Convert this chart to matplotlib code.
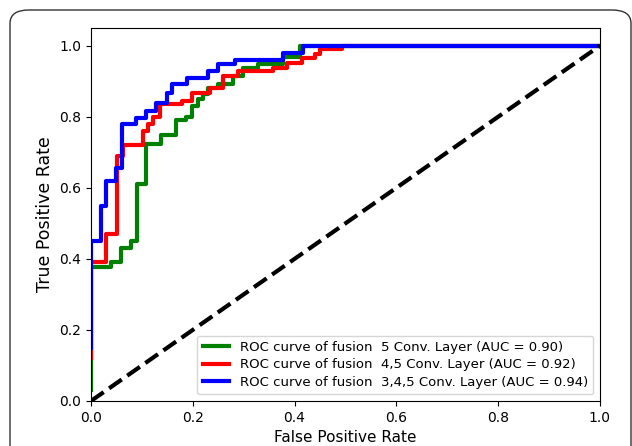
import matplotlib
matplotlib.use("Agg")
import matplotlib.pyplot as plt
from matplotlib.patches import FancyBboxPatch

# ROC corner points
fpr_5 = [0.0, 0.0, 0.039, 0.039, 0.059, 0.059, 0.079, 0.079, 0.090, 0.090,
         0.108, 0.108, 0.137, 0.137, 0.167, 0.167, 0.187, 0.187, 0.198, 0.198,
         0.210, 0.210, 0.220, 0.220, 0.230, 0.230, 0.250, 0.250, 0.279, 0.279,
         0.299, 0.299, 0.328, 0.328, 0.377, 0.377, 0.411, 0.411, 1.0]
tpr_5 = [0.03, 0.377, 0.377, 0.39, 0.39, 0.43, 0.43, 0.45, 0.45, 0.61,
         0.61, 0.724, 0.724, 0.75, 0.75, 0.79, 0.79, 0.80, 0.80, 0.83,
         0.83, 0.85, 0.85, 0.865, 0.865, 0.88, 0.88, 0.893, 0.893, 0.915,
         0.915, 0.938, 0.938, 0.95, 0.95, 0.97, 0.97, 1.0, 1.0]

fpr_45 = [0.0, 0.0, 0.029, 0.029, 0.051, 0.051, 0.063, 0.063, 0.102, 0.102,
          0.112, 0.112, 0.122, 0.122, 0.135, 0.135, 0.179, 0.179, 0.198, 0.198,
          0.234, 0.234, 0.259, 0.259, 0.289, 0.289, 0.358, 0.358, 0.385, 0.385,
          0.415, 0.415, 0.440, 0.440, 0.450, 0.450, 0.493, 0.493, 1.0]
tpr_45 = [0.12, 0.39, 0.39, 0.47, 0.47, 0.69, 0.69, 0.72, 0.72, 0.76,
          0.76, 0.78, 0.78, 0.80, 0.80, 0.835, 0.835, 0.845, 0.845, 0.868,
          0.868, 0.882, 0.882, 0.915, 0.915, 0.93, 0.93, 0.938, 0.938, 0.952,
          0.952, 0.966, 0.966, 0.977, 0.977, 0.99, 0.99, 1.0, 1.0]

fpr_345 = [0.0, 0.0, 0.020, 0.020, 0.030, 0.030, 0.050, 0.050, 0.060, 0.060,
           0.088, 0.088, 0.108, 0.108, 0.128, 0.128, 0.149, 0.149, 0.159, 0.159,
           0.189, 0.189, 0.230, 0.230, 0.250, 0.250, 0.283, 0.283, 0.377, 0.377,
           0.417, 0.417, 1.0]
tpr_345 = [0.15, 0.45, 0.45, 0.55, 0.55, 0.62, 0.62, 0.657, 0.657, 0.78,
           0.78, 0.797, 0.797, 0.817, 0.817, 0.84, 0.84, 0.868, 0.868, 0.893,
           0.893, 0.91, 0.91, 0.93, 0.93, 0.95, 0.95, 0.96, 0.96, 0.98,
           0.98, 1.0, 1.0]

labels = ["ROC curve of fusion  5 Conv. Layer (AUC = 0.90)",
          "ROC curve of fusion  4,5 Conv. Layer (AUC = 0.92)",
          "ROC curve of fusion  3,4,5 Conv. Layer (AUC = 0.94)"]
colors = ["green", "red", "blue"]

fig = plt.figure(figsize=(6.32, 4.46), dpi=100)
ax = fig.add_axes([0.144, 0.101, 0.805, 0.836])

curves = [(fpr_5, tpr_5), (fpr_45, tpr_45), (fpr_345, tpr_345)]
for (x, y), c, lab in zip(curves, colors, labels):
    ax.plot(x, y, color=c, lw=3, label=lab)

ax.plot([0, 1], [0, 1], 'k--', lw=3)

ax.set_xlim(0, 1)
ax.set_ylim(0, 1.05)
ax.set_xticks([0, 0.2, 0.4, 0.6, 0.8, 1.0])
ax.set_yticks([0, 0.2, 0.4, 0.6, 0.8, 1.0])
ax.tick_params(labelsize=10)
ax.set_xlabel("False Positive Rate", fontsize=11)
ax.set_ylabel("True Positive Rate", fontsize=12.5)
ax.legend(loc="lower right", fontsize=9.5, labelspacing=0.35)

# rounded frame around the figure
frame = FancyBboxPatch((10 / 632, -0.1), 621 / 632, 1 - 10 / 446 + 0.1,
                       boxstyle="round,pad=0,rounding_size=0.03",
                       transform=fig.transFigure, fill=False,
                       edgecolor="#333333", lw=1, clip_on=False)
fig.patches.append(frame)

fig.savefig("out.png", dpi=100)
